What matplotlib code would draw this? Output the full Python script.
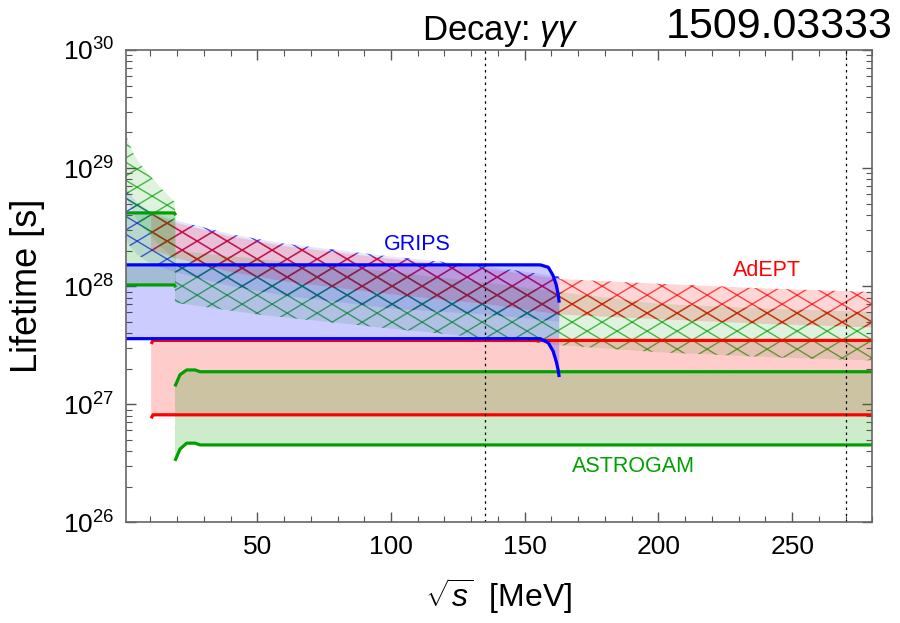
import numpy as np
import matplotlib
matplotlib.use('Agg')
import matplotlib.pyplot as plt
from matplotlib.collections import LineCollection
from matplotlib.ticker import LogLocator, MultipleLocator, NullFormatter

plt.rcParams['font.family'] = ['Liberation Sans', 'DejaVu Sans']
plt.rcParams['mathtext.fontset'] = 'custom'
plt.rcParams['mathtext.rm'] = 'Liberation Sans'
plt.rcParams['mathtext.it'] = 'Liberation Sans:italic'

BLUE = '#0000ff'
RED = '#ff0000'
GREEN = '#00a000'

# --- solid bands (log10 of lifetime [s]) ---
grips_x = [0.8, 150, 155.8, 158.8, 160.6, 161.8, 162.5, 162.9]
grips_hi = [28.18, 28.18, 28.18, 28.16, 28.09, 28.01, 27.93, 27.86]
grips_lo = [27.555, 27.555, 27.555, 27.52, 27.45, 27.36, 27.29, 27.23]

adept_x = [10.3, 11.0, 280]
adept_hi = [27.51, 27.54, 27.54]
adept_lo = [26.88, 26.91, 26.91]

astro_x = [19.2, 21.1, 23.6, 26.7, 28.6, 280]
astro_hi = [27.15, 27.25, 27.29, 27.29, 27.275, 27.275]
astro_lo = [26.52, 26.62, 26.67, 26.67, 26.655, 26.655]

astro_low_x = [0.8, 19.0, 19.5]
astro_low_hi = [28.62, 28.62, 28.60]
astro_low_lo = [28.01, 28.01, 27.99]

# --- hatched (projected) bands ---
grips_proj_x = [0.8, 2, 5, 10, 19, 40, 60, 100, 135, 163]
grips_proj_hi = [28.86, 28.79, 28.71, 28.63, 28.56, 28.44, 28.36, 28.25, 28.17, 28.08]
grips_proj_lo = [28.42, 28.35, 28.27, 28.19, 28.12, 28.00, 27.92, 27.81, 27.76, 27.70]

adept_proj_x = [10.3, 19, 40, 60, 100, 135, 163, 200, 240, 280]
adept_proj_hi = [28.61, 28.54, 28.42, 28.34, 28.23, 28.15, 28.06, 28.02, 27.98, 27.95]
adept_proj_lo = [28.31, 28.24, 28.12, 28.04, 27.93, 27.85, 27.76, 27.72, 27.68, 27.65]

astro_proj_x = [19.2, 50, 100, 135, 163, 200, 240, 280]
astro_proj_hi = [28.30, 28.23, 28.12, 28.03, 27.95, 27.85, 27.81, 27.78]
astro_proj_lo = [27.86, 27.76, 27.64, 27.56, 27.50, 27.44, 27.40, 27.37]

astro_low_proj_x = [0.8, 1.5, 3.5, 6, 10, 14, 19.2]
astro_low_proj_hi = [29.32, 29.24, 29.13, 29.04, 28.93, 28.83, 28.71]
astro_low_proj_lo = [28.80, 28.72, 28.62, 28.53, 28.43, 28.33, 28.23]

mass_lines = [135, 270]

fig = plt.figure(figsize=(9, 6.23), dpi=100)
ax = fig.add_axes([0.1397, 0.1617, 0.8296, 0.7581])
ax.set_yscale('log')
ax.set_xlim(0.8, 280)
ax.set_ylim(1e26, 1e30)

AX_W = 0.8296 * 900
AX_H = 0.7581 * 623


def band_poly(x, lo, hi):
    x = np.asarray(x, float)
    lo = 10 ** np.asarray(lo, float)
    hi = 10 ** np.asarray(hi, float)
    xs = np.concatenate([x, x[::-1]])
    ys = np.concatenate([hi, lo[::-1]])
    return xs, ys


def hatched_band(x, lo, hi, color, fill_alpha=0.15, zorder=1):
    xs, ys = band_poly(x, lo, hi)
    poly, = ax.fill(xs, ys, facecolor=color, alpha=fill_alpha, lw=0, zorder=zorder)
    # diamond cross-hatch drawn in pixel space, clipped to the band
    spacing, slope = 30.0, 0.6
    segs = []
    for c in np.arange(-AX_H / slope - spacing, AX_W + AX_H / slope + spacing, spacing):
        segs.append([(c / AX_W, 0), ((c + AX_H / slope) / AX_W, 1)])
        segs.append([(c / AX_W, 1), ((c + AX_H / slope) / AX_W, 0)])
    lc = LineCollection(segs, colors=color, linewidths=1.0, alpha=0.7,
                        transform=ax.transAxes, zorder=zorder)
    ax.add_collection(lc)
    lc.set_clip_path(poly)


def solid_band(x, lo, hi, color, zorder=2):
    ax.fill_between(x, 10 ** np.asarray(lo), 10 ** np.asarray(hi),
                    facecolor=color, alpha=0.2, lw=0, zorder=zorder)
    ax.plot(x, 10 ** np.asarray(hi), color=color, lw=2.3, zorder=zorder + 2,
            solid_capstyle='butt')
    ax.plot(x, 10 ** np.asarray(lo), color=color, lw=2.3, zorder=zorder + 2,
            solid_capstyle='butt')


# projected sensitivities (hatched)
hatched_band(grips_proj_x, grips_proj_lo, grips_proj_hi, BLUE, fill_alpha=0.1)
hatched_band(astro_proj_x, astro_proj_lo, astro_proj_hi, GREEN, fill_alpha=0.13)
hatched_band(astro_low_proj_x, astro_low_proj_lo, astro_low_proj_hi, GREEN, fill_alpha=0.13)
hatched_band(adept_proj_x, adept_proj_lo, adept_proj_hi, RED, fill_alpha=0.16)

# current bands
solid_band(adept_x, adept_lo, adept_hi, RED)
solid_band(astro_x, astro_lo, astro_hi, GREEN)
solid_band(astro_low_x, astro_low_lo, astro_low_hi, GREEN)
solid_band(grips_x, grips_lo, grips_hi, BLUE)

for m in mass_lines:
    ax.axvline(m, color='black', lw=0.9, ls=(0, (2, 3)), zorder=5)

ax.text(110, 10 ** 28.35, 'GRIPS', color=BLUE, fontsize=15.5, ha='center', va='center', zorder=6)
ax.text(240.7, 10 ** 28.13, 'AdEPT', color=RED, fontsize=15.5, ha='center', va='center', zorder=6)
ax.text(190.6, 10 ** 26.47, 'ASTROGAM', color=GREEN, fontsize=15.5, ha='center', va='center', zorder=6)

# axes styling
ax.xaxis.set_major_locator(MultipleLocator(50))
ax.xaxis.set_minor_locator(MultipleLocator(10))
ax.yaxis.set_major_locator(LogLocator(base=10, numticks=10))
ax.yaxis.set_minor_locator(LogLocator(base=10, subs=np.arange(2, 10), numticks=20))
ax.yaxis.set_minor_formatter(NullFormatter())
ax.tick_params(which='both', direction='in', top=True, right=True, color='#555555')
ax.tick_params(which='major', length=7, width=1.0, labelsize=19, pad=8)
ax.tick_params(which='minor', length=4, width=0.8)
ax.tick_params(axis='x', which='major', pad=9)
for sp in ax.spines.values():
    sp.set_color('#666666')
    sp.set_linewidth(1.2)
    sp.set_zorder(7)

ax.set_ylabel('Lifetime [s]', fontsize=26)
ax.yaxis.set_label_coords(-0.108, 0.5)
ax.set_xlabel(r'$\sqrt{s}$  [MeV]', fontsize=23)
ax.xaxis.set_label_coords(0.5, -0.113)

fig.text(0.556, 0.950, r'Decay: $\gamma\gamma$', fontsize=25, ha='center', va='center')
fig.text(0.8656, 0.957, '1509.03333', fontsize=31, ha='center', va='center')

fig.savefig('out.png', dpi=100)
